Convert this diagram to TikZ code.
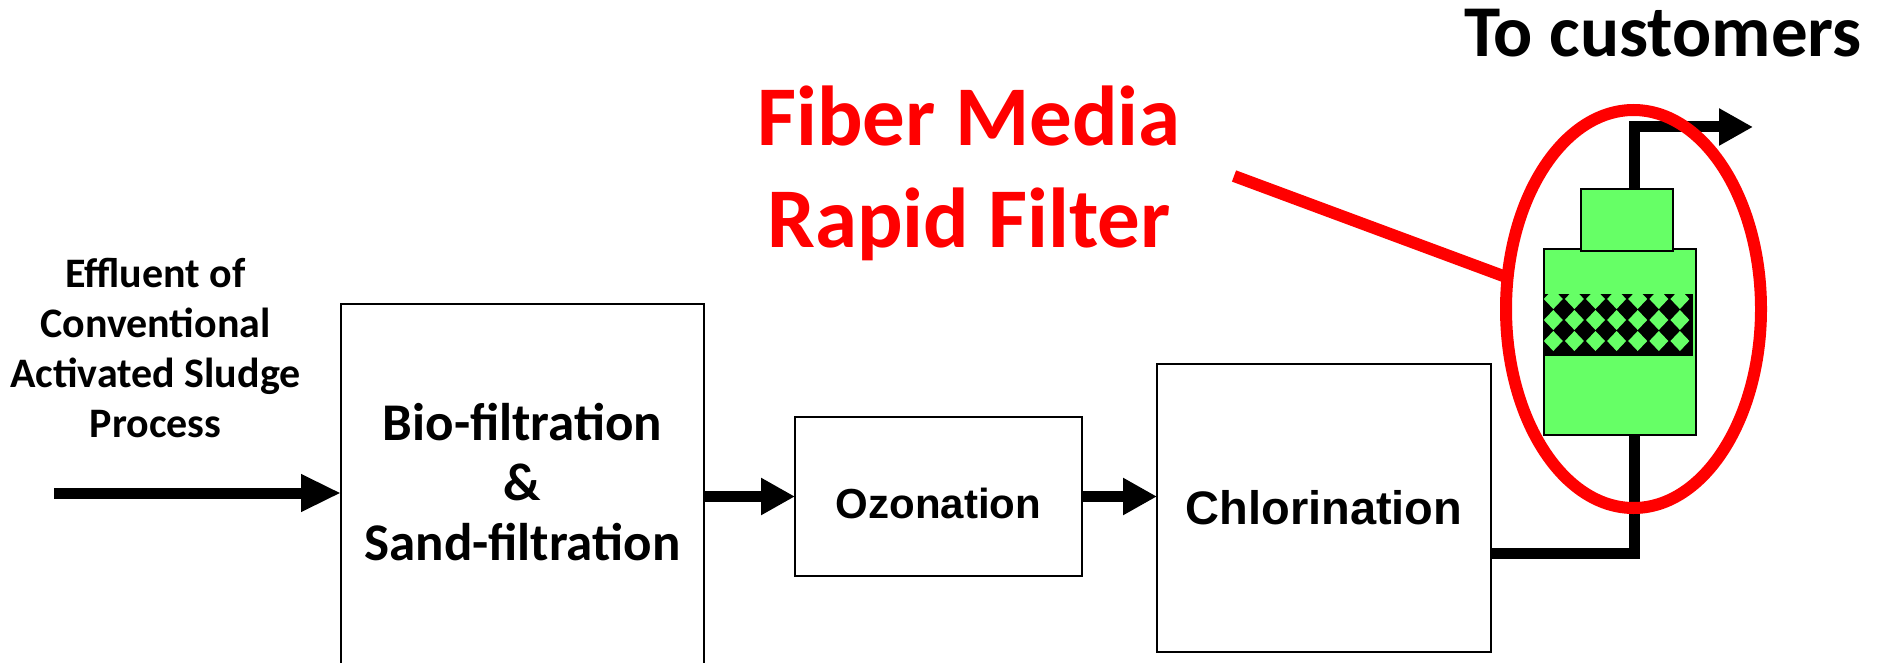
\documentclass[tikz,border=0pt]{standalone}
\usepackage{fontspec}
\setmainfont{Carlito}
\newfontfamily\arialfont{Liberation Sans}
\usetikzlibrary{arrows.meta,shapes.geometric}
\definecolor{fibergreen}{HTML}{66FF66}
\tikzset{
  procbox/.style={draw, line width=2pt, inner sep=0pt, outer sep=0pt},
  vessel/.style={draw, fill=fibergreen, line width=2pt, inner sep=0pt, outer sep=0pt},
  flow/.style={line width=11pt, -{Triangle[length=34pt,width=35pt]}},
  pipe/.style={line width=11pt},
  callout/.style={draw=red, line width=12pt}
}
\begin{document}
\begin{tikzpicture}[x=1pt,y=-1pt]
\clip (0,0) rectangle (1881,663);

% Text Node
\node[align=center, inner sep=0pt, font=\bfseries\fontsize{42}{50}\selectfont] (effl) at (155.5,348) {Effluent of\\Conventional\\Activated Sludge\\Process};
\node[font=\bfseries\fontsize{73}{80}\selectfont, anchor=base, inner sep=0pt] (dest) at (1663,57) {To customers};
\node[align=center, inner sep=0pt, red, font=\bfseries\fontsize{85}{102}\selectfont] (title) at (969,173.7) {Fiber Media\\Rapid Filter};

%Shape: Rectangle
\node[procbox, minimum width=363pt, minimum height=396pt] (bio) at (522.5,502) {};
\node[align=center, inner sep=0pt, font=\bfseries\fontsize{53}{60}\selectfont] (biotext) at (522.5,481.7) {Bio-filtration\\\&\\Sand-filtration};
\node[procbox, minimum width=287pt, minimum height=159pt, text height=43pt, text depth=0pt, font=\arialfont\bfseries\fontsize{42}{50}\selectfont] (ozon) at (938.5,496.5) {Ozonation};
\node[procbox, minimum width=334pt, minimum height=288pt, font=\arialfont\bfseries\fontsize{47}{56}\selectfont] (chlor) at (1324,508) {Chlorination};

%Shape: Filter
\node[vessel, minimum width=152pt, minimum height=186pt] (body) at (1620,342) {};
\node[vessel, minimum width=92pt, minimum height=62pt] (cap) at (1627,220) {};
\node[fill=black, inner sep=0pt, minimum width=149pt, minimum height=62pt] (media) at (1618.5,325) {};
\begin{scope}
\clip (media.north west) rectangle (media.south east);
\foreach \i in {0,...,6}
  \foreach \j in {0,1,2}
    \fill[fibergreen] (1553.3+21.1*\i,299+21*\j) +(-9.5,0) -- +(0,-10) -- +(9.5,0) -- +(0,10) -- cycle;
\end{scope}

% Connectors
\coordinate (src) at (54,493);
\coordinate (tap) at (1753,127);
\draw[flow, -{Triangle[length=40pt,width=35pt]}] (src) -- (src -| bio.west);
\draw[flow] (bio.east |- ozon.west) -- (ozon.west);
\draw[flow] (ozon.east) -- (ozon.east -| chlor.west);
\draw[pipe] (chlor.east |- 0,553) -| ([xshift=14pt]body.south);
\draw[flow] ([xshift=7pt]cap.north) |- (tap);

%Shape: Ellipse
\node[ellipse, draw=red, line width=12pt, minimum width=255pt, minimum height=398pt, inner sep=0pt, outer sep=0pt] (ring) at (1633.5,309) {};
\coordinate (lead) at (1234,176);
\draw[callout] (lead) -- (ring.166);

\end{tikzpicture}
\end{document}
